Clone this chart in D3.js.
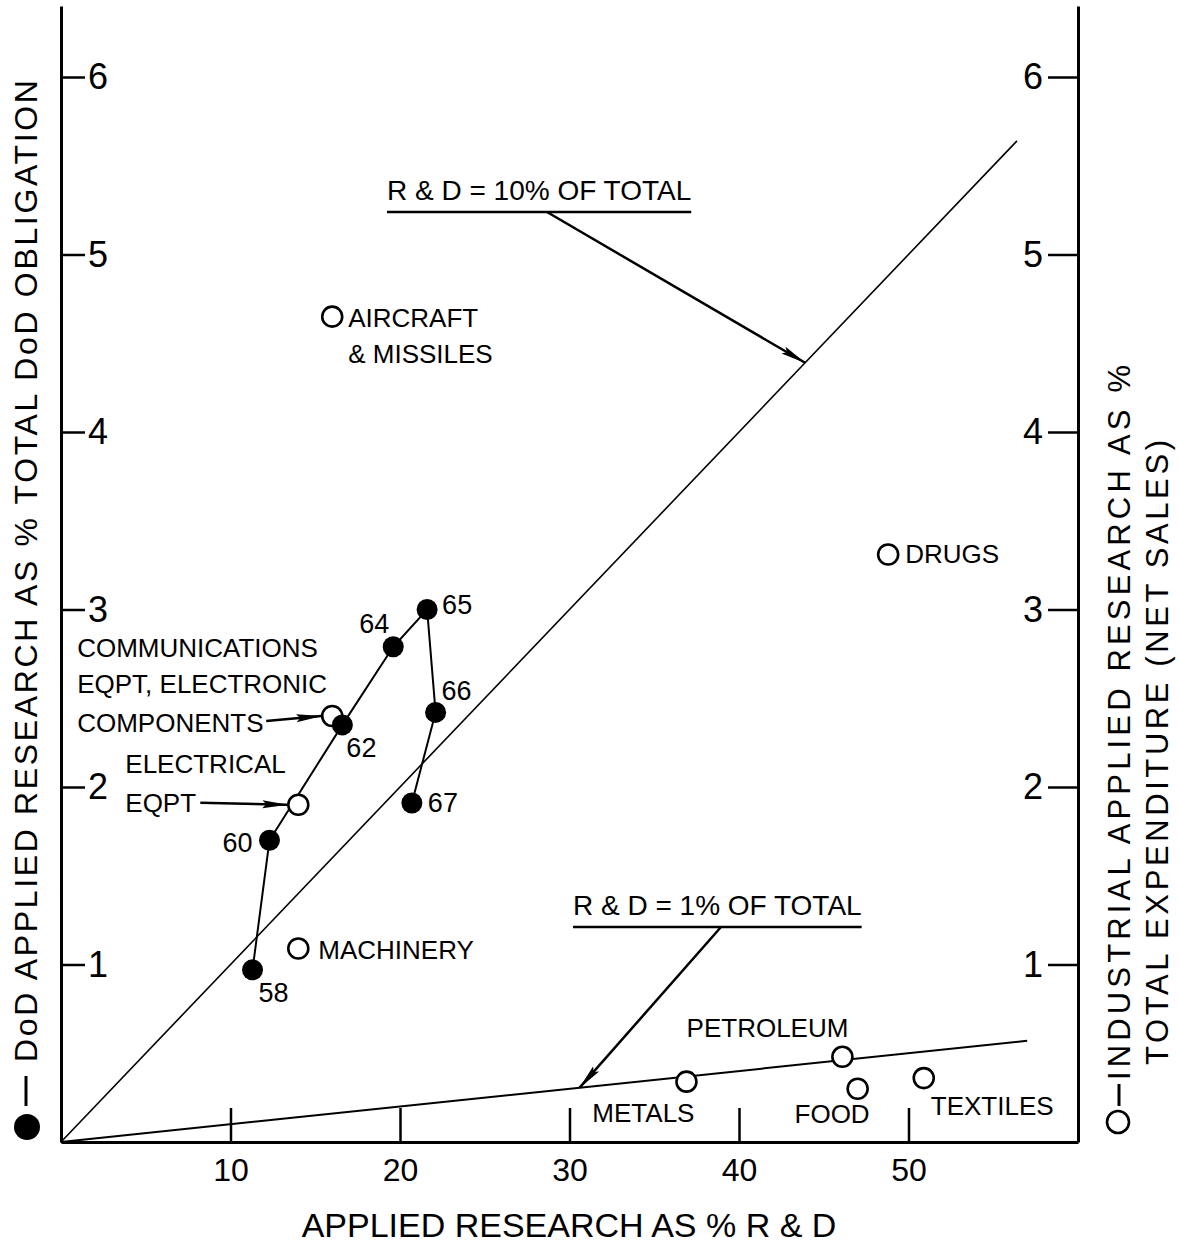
<!DOCTYPE html>
<html>
<head>
<meta charset="utf-8">
<script src="https://cdn.jsdelivr.net/npm/d3@7"></script>
<style>
  html, body { margin: 0; padding: 0; background: #fff; }
  svg { display: block; font-family: "Liberation Sans", Arial, sans-serif; }
</style>
</head>
<body>
<svg id="chart" width="1179" height="1245"></svg>
<script>
// DoD applied research, by fiscal year (filled markers, joined in year order)
const dodYears = ["58", "60", "62", "64", "65", "66", "67"];
const dodPctRD = [11.3, 12.3, 16.6, 19.6, 21.6, 22.1, 20.7];
const dodPctObligation = [0.97, 1.70, 2.35, 2.79, 3.00, 2.42, 1.91];

// Industrial applied research, by industry (open markers)
const industries = ["AIRCRAFT & MISSILES", "DRUGS", "COMMUNICATIONS EQPT, ELECTRONIC COMPONENTS",
  "ELECTRICAL EQPT", "MACHINERY", "PETROLEUM", "METALS", "FOOD", "TEXTILES"];
const industryPctRD = [16.0, 48.8, 16.0, 14.0, 14.0, 46.1, 36.9, 47.0, 50.9];
const industryPctSales = [4.65, 3.31, 2.40, 1.90, 1.09, 0.48, 0.34, 0.30, 0.36];

// Lines of constant R&D share of total
const refLabels = ["R & D = 10% OF TOTAL", "R & D = 1% OF TOTAL"];
const refRatio = [0.10, 0.01];
const refEndX = [56.4, 57.0];
const refArrowX = [43.9, 30.6];

// Tick values
const xTicks = [10, 20, 30, 40, 50];
const yTicks = [1, 2, 3, 4, 5, 6];

const FONT = '"Liberation Sans", Arial, sans-serif';
const svg = d3.select("#chart");

const x = d3.scaleLinear().domain([0, 60]).range([61, 1078]);
const y = d3.scaleLinear().domain([0, 6.4]).range([1142, 6]);

// arrowhead
svg.append("defs").append("marker")
  .attr("id", "head")
  .attr("markerUnits", "userSpaceOnUse")
  .attr("viewBox", "0 0 26 10")
  .attr("markerWidth", 26).attr("markerHeight", 10)
  .attr("refX", 25).attr("refY", 5)
  .attr("orient", "auto")
  .append("path").attr("d", "M0,1 L26,5 L0,9 L4,5 Z").attr("fill", "#000");

function styleAxis(g, size) {
  g.attr("font-family", FONT).attr("font-size", size);
  g.select(".domain").attr("stroke", "#000").attr("stroke-width", 3);
  g.selectAll(".tick line").attr("stroke", "#000").attr("stroke-width", 2.5);
  g.selectAll(".tick text").attr("fill", "#000");
}

// left axis (DoD share)
svg.append("g").attr("transform", "translate(61,0)")
  .call(d3.axisRight(y).tickValues(yTicks).tickSize(24).tickSizeOuter(0).tickPadding(3).tickFormat(d3.format("d")))
  .call(g => styleAxis(g, 36));

// right axis (industrial share)
svg.append("g").attr("transform", "translate(1078,0)")
  .call(d3.axisLeft(y).tickValues(yTicks).tickSize(30).tickSizeOuter(0).tickPadding(5).tickFormat(d3.format("d")))
  .call(g => styleAxis(g, 36));

// bottom axis, ticks pointing inward
svg.append("g").attr("transform", "translate(0,1142)")
  .call(d3.axisBottom(x).tickValues(xTicks).tickSize(-34).tickSizeOuter(0).tickPadding(16).tickFormat(d3.format("d")))
  .call(g => styleAxis(g, 32));

// reference lines through the origin
svg.append("g").selectAll("line")
  .data(refRatio)
  .join("line")
  .attr("x1", x(0)).attr("y1", y(0))
  .attr("x2", (d, i) => x(refEndX[i]))
  .attr("y2", (d, i) => y(d * refEndX[i]))
  .attr("stroke", "#000")
  .attr("stroke-width", (d, i) => i === 0 ? 1.6 : 2);

// reference line annotations: underlined label with an arrow to its line
const refLayout = [
  { tx: 387, ty: 200, arrowFrom: 160 },
  { tx: 573, ty: 915, arrowFrom: 148 }
];
refLabels.forEach((lab, i) => {
  const L = refLayout[i];
  const t = svg.append("text")
    .attr("x", L.tx).attr("y", L.ty)
    .attr("font-family", FONT).attr("font-size", 28)
    .text(lab);
  const w = t.node().getComputedTextLength();
  svg.append("line")
    .attr("x1", L.tx).attr("x2", L.tx + w)
    .attr("y1", L.ty + 12).attr("y2", L.ty + 12)
    .attr("stroke", "#000").attr("stroke-width", 2.5);
  const ax = refArrowX[i];
  svg.append("line")
    .attr("x1", L.tx + L.arrowFrom).attr("y1", L.ty + 12)
    .attr("x2", x(ax)).attr("y2", y(refRatio[i] * ax))
    .attr("stroke", "#000").attr("stroke-width", 2.5)
    .attr("marker-end", "url(#head)");
});

// DoD trajectory
const dodIdx = d3.range(dodYears.length);
svg.append("path")
  .attr("d", d3.line().x(i => x(dodPctRD[i])).y(i => y(dodPctObligation[i]))(dodIdx))
  .attr("fill", "none").attr("stroke", "#000").attr("stroke-width", 2);

// industry markers
const indIdx = d3.range(industries.length);
svg.append("g").selectAll("circle")
  .data(indIdx)
  .join("circle")
  .attr("cx", i => x(industryPctRD[i]))
  .attr("cy", i => y(industryPctSales[i]))
  .attr("r", 10)
  .attr("fill", "#fff").attr("stroke", "#000").attr("stroke-width", 2.6);

// DoD markers
svg.append("g").selectAll("circle")
  .data(dodIdx)
  .join("circle")
  .attr("cx", i => x(dodPctRD[i]))
  .attr("cy", i => y(dodPctObligation[i]))
  .attr("r", 10.5)
  .attr("fill", "#000");

// year labels
const yearLayout = [
  { dx: 6, dy: 32, anchor: "start" },
  { dx: -17, dy: 12, anchor: "end" },
  { dx: 4, dy: 32, anchor: "start" },
  { dx: -4, dy: -14, anchor: "end" },
  { dx: 15, dy: 4, anchor: "start" },
  { dx: 6, dy: -12, anchor: "start" },
  { dx: 16, dy: 9, anchor: "start" }
];
svg.append("g").selectAll("text")
  .data(dodIdx)
  .join("text")
  .attr("x", i => x(dodPctRD[i]) + yearLayout[i].dx)
  .attr("y", i => y(dodPctObligation[i]) + yearLayout[i].dy)
  .attr("text-anchor", i => yearLayout[i].anchor)
  .attr("font-family", FONT).attr("font-size", 27)
  .text(i => dodYears[i]);

// industry labels
const indLayout = [
  { lines: ["AIRCRAFT", "& MISSILES"], dx: 16, dy: [10, 46], anchor: "start" },
  { lines: ["DRUGS"], dx: 17, dy: [9], anchor: "start" },
  { lines: ["COMMUNICATIONS", "EQPT, ELECTRONIC", "COMPONENTS"], dx: -255, dy: [-59, -23, 16], anchor: "start",
    arrow: [-66, 5, -11, 0] },
  { lines: ["ELECTRICAL", "EQPT"], dx: -173, dy: [-32, 7], anchor: "start",
    arrow: [-98, -2, -11, 0] },
  { lines: ["MACHINERY"], dx: 20, dy: [10], anchor: "start" },
  { lines: ["PETROLEUM"], dx: 6, dy: [-20], anchor: "end" },
  { lines: ["METALS"], dx: 8, dy: [40], anchor: "end" },
  { lines: ["FOOD"], dx: 12, dy: [34], anchor: "end" },
  { lines: ["TEXTILES"], dx: 7, dy: [37], anchor: "start" }
];
indIdx.forEach(i => {
  const L = indLayout[i];
  const cx = x(industryPctRD[i]), cy = y(industryPctSales[i]);
  L.lines.forEach((s, k) => {
    svg.append("text")
      .attr("x", cx + L.dx).attr("y", cy + L.dy[k])
      .attr("text-anchor", L.anchor)
      .attr("font-family", FONT).attr("font-size", 26)
      .text(s);
  });
  if (L.arrow) {
    svg.append("line")
      .attr("x1", cx + L.arrow[0]).attr("y1", cy + L.arrow[1])
      .attr("x2", cx + L.arrow[2]).attr("y2", cy + L.arrow[3])
      .attr("stroke", "#000").attr("stroke-width", 2.5)
      .attr("marker-end", "url(#head)");
  }
});

// x-axis title
svg.append("text")
  .attr("x", 569).attr("y", 1237)
  .attr("text-anchor", "middle")
  .attr("font-family", FONT).attr("font-size", 34)
  .text("APPLIED RESEARCH AS % R & D");

// left title with filled-marker key
svg.append("circle").attr("cx", 27).attr("cy", 1127).attr("r", 13).attr("fill", "#000");
svg.append("line").attr("x1", 26).attr("x2", 26).attr("y1", 1106).attr("y2", 1076)
  .attr("stroke", "#000").attr("stroke-width", 3);
svg.append("text")
  .attr("transform", "translate(37,1062) rotate(-90)")
  .attr("font-family", FONT).attr("font-size", 32)
  .attr("textLength", 982).attr("lengthAdjust", "spacing")
  .text("DoD APPLIED RESEARCH AS % TOTAL DoD OBLIGATION");

// right title with open-marker key
svg.append("circle").attr("cx", 1118).attr("cy", 1122).attr("r", 11)
  .attr("fill", "#fff").attr("stroke", "#000").attr("stroke-width", 2.6);
svg.append("line").attr("x1", 1119).attr("x2", 1119).attr("y1", 1106).attr("y2", 1084)
  .attr("stroke", "#000").attr("stroke-width", 3);
svg.append("text")
  .attr("transform", "translate(1130,1080) rotate(-90)")
  .attr("font-family", FONT).attr("font-size", 31)
  .attr("textLength", 715).attr("lengthAdjust", "spacing")
  .text("INDUSTRIAL APPLIED RESEARCH AS %");
svg.append("text")
  .attr("transform", "translate(1168,1065) rotate(-90)")
  .attr("font-family", FONT).attr("font-size", 31)
  .attr("textLength", 625).attr("lengthAdjust", "spacing")
  .text("TOTAL EXPENDITURE (NET SALES)");
</script>
</body>
</html>
